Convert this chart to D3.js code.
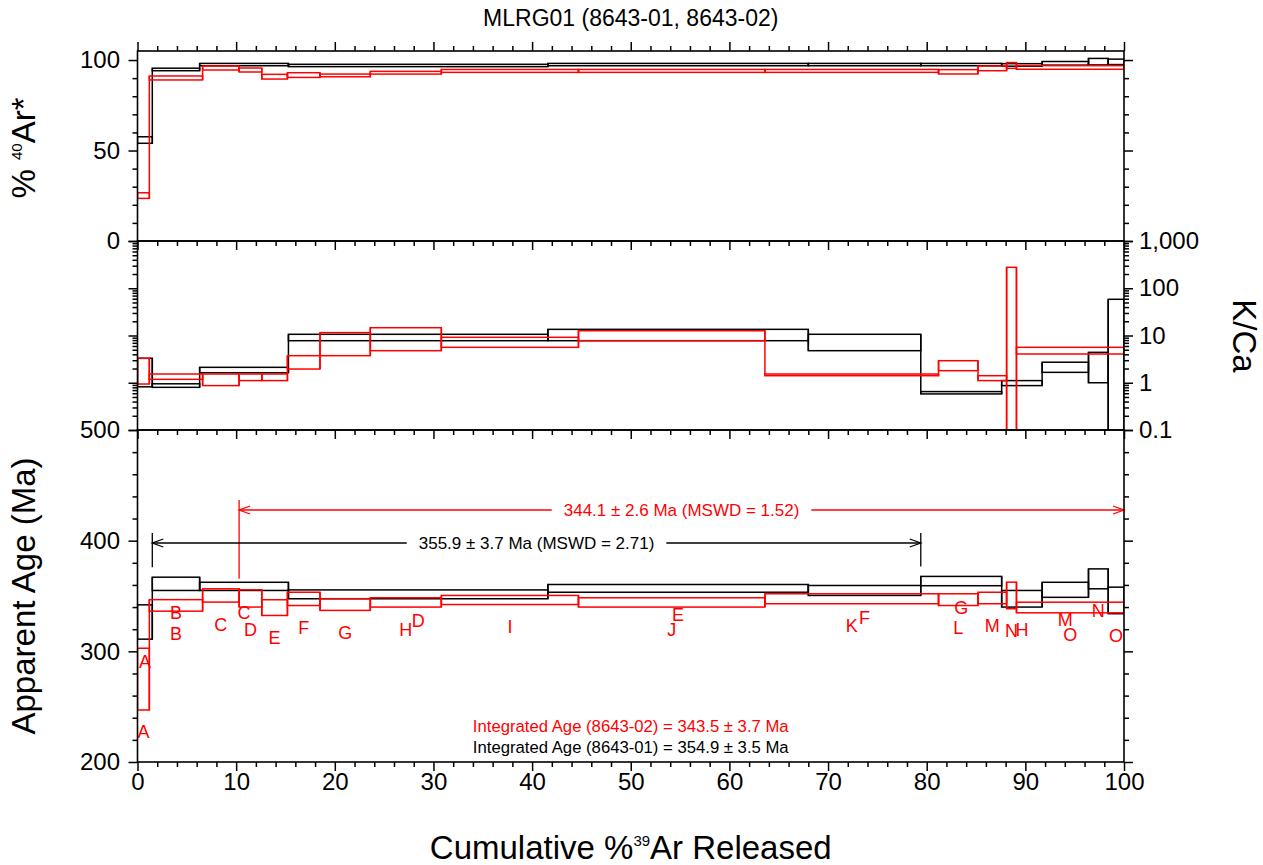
<!DOCTYPE html>
<html>
<head>
<meta charset="utf-8">
<script src="https://cdn.jsdelivr.net/npm/d3@7"></script>
<style>
  body { margin: 0; background: #fff; }
  svg { font-family: "Liberation Sans", Arial, Helvetica, sans-serif; }
</style>
</head>
<body>
<svg id="chart" width="1263" height="865"></svg>
<script>
// ---- data ----
// 8643-01 (black)
const cum01 = [0, 1.5, 6.3, 15.3, 41.6, 68.0, 79.4, 87.6, 91.7, 96.4, 98.4, 100];
const labels01 = ["A", "B", "C", "D", "E", "F", "G", "H", "M", "N", "O"];
const age01 = [326.5, 361.0, 358.7, 351.5, 356.9, 355.0, 363.5, 347.5, 355.6, 365.5, 346.0];
const ageErr01 = [15.5, 6.0, 3.7, 4.0, 3.5, 4.5, 4.2, 7.5, 6.8, 9.0, 12.0];
const ar01 = [55.8, 94.8, 97.5, 97.0, 97.5, 97.5, 97.5, 97.3, 98.2, 99.1, 99.0];
const arErr01 = [1.8, 0.7, 0.65, 0.65, 0.65, 0.65, 0.65, 0.7, 1.0, 1.8, 1.5];
const kca01 = [2.06, 0.875, 1.875, 9.18, 10.63, 7.69, 0.615, 0.99, 2.19, 2.7, 20];
const kcaErr01 = [1.24, 0.075, 0.245, 1.42, 2.87, 2.92, 0.035, 0.12, 0.53, 1.7, 38.4];

// 8643-02 (red)
const cum02 = [0, 1.2, 6.6, 10.3, 12.6, 15.2, 18.5, 23.6, 30.8, 44.7, 63.6, 81.2, 85.2, 88.1, 89.1, 100];
const labels02 = ["A", "B", "C", "D", "E", "F", "G", "H", "I", "J", "K", "L", "M", "N", "O"];
const age02 = [274.9, 341.5, 350.5, 347.8, 339.5, 347.4, 342.3, 344.2, 346.4, 344.2, 347.5, 346.7, 348.2, 350.5, 339.6];
const ageErr02 = [27.9, 5.2, 6.0, 7.8, 7.1, 6.0, 5.3, 4.2, 4.1, 4.2, 4.5, 5.3, 5.2, 12.0, 4.8];
const ar02 = [25.1, 90.1, 95.6, 94.5, 90.8, 91.7, 91.5, 93.0, 94.0, 94.0, 94.0, 93.5, 95.4, 97.0, 95.9];
const arErr02 = [1.55, 1.1, 1.1, 1.1, 1.3, 1.3, 0.75, 0.75, 0.8, 0.8, 0.8, 1.2, 1.3, 1.6, 1.0];
const kca02 = [2.115, 1.355, 1.2, 1.32, 1.32, 2.845, 7.62, 9.69, 7.39, 10.18, 1.47, 2.365, 1.26, 120, 4.84];
const kcaErr02 = [1.175, 0.175, 0.33, 0.21, 0.21, 0.895, 3.88, 4.92, 1.77, 2.42, 0.06, 0.565, 0.15, 157, 0.78];

// plateaus: [start %, end %]
const plateau01 = [1.5, 79.4];
const plateau02 = [10.3, 100];
const plateauText01 = "355.9 ± 3.7 Ma (MSWD = 2.71)";
const plateauText02 = "344.1 ± 2.6 Ma (MSWD = 1.52)";
const integratedText01 = "Integrated Age (8643-01) = 354.9 ± 3.5 Ma";
const integratedText02 = "Integrated Age (8643-02) = 343.5 ± 3.7 Ma";

const xMajor = d3.range(0, 101, 10);
const xMinor = d3.range(0, 101, 2).filter(d => d % 10 !== 0);
const arMajor = [0, 50, 100];
const arMinor = [10, 20, 30, 40, 60, 70, 80, 90];
const kcaMajor = [0.1, 1, 10, 100, 1000];
const kcaMinor = [0.1, 1, 10, 100].flatMap(d => d3.range(2, 10).map(k => k * d));
const ageMajor = [200, 300, 400, 500];
const ageMinor = d3.range(200, 501, 20).filter(d => d % 100 !== 0);

// ---- layout ----
const BLACK = "#000", RED = "#ff0000";
const svg = d3.select("#chart");
const left = 137.5, right = 1124;
const x = d3.scaleLinear().domain([0, 100]).range([left, right]);
const yAr = d3.scaleLinear().domain([0, 105]).range([241, 51]);
const yKca = d3.scaleLog().domain([0.1, 1000]).range([430, 241]);
const yAge = d3.scaleLinear().domain([200, 500]).range([762, 430]);
const panels = [yAr, yKca, yAge];

// clip paths
const defs = svg.append("defs");
panels.forEach((y, i) => {
  defs.append("clipPath").attr("id", "clip" + i)
    .append("rect")
    .attr("x", left).attr("y", y.range()[1])
    .attr("width", right - left).attr("height", y.range()[0] - y.range()[1]);
});

function spectrum(g, cum, vals, errs, y, color) {
  const isLog = typeof y.base === "function";
  const lo = (v, e) => { const l = v - e; return isLog && l <= 0 ? 1e-4 : l; };
  const steps = vals.map((v, i) => ({ x0: cum[i], x1: cum[i + 1], lo: lo(v, errs[i]), hi: v + errs[i] }));
  g.selectAll(null)
    .data(steps)
    .join("rect")
    .attr("x", d => x(d.x0))
    .attr("y", d => y(d.hi))
    .attr("width", d => x(d.x1) - x(d.x0))
    .attr("height", d => y(d.lo) - y(d.hi))
    .attr("fill", "none")
    .attr("stroke", color)
    .attr("stroke-width", 1.5);
  // connecting verticals between steps
  g.selectAll(null)
    .data(steps.slice(1).map((d, i) => ({ x: d.x0, a: steps[i], b: d })))
    .join("line")
    .attr("x1", d => x(d.x)).attr("x2", d => x(d.x))
    .attr("y1", d => y(Math.min(d.a.lo, d.b.lo)))
    .attr("y2", d => y(Math.max(d.a.hi, d.b.hi)))
    .attr("stroke", color)
    .attr("stroke-width", 1.5);
  return steps;
}

const gAr = svg.append("g").attr("clip-path", "url(#clip0)");
spectrum(gAr, cum01, ar01, arErr01, yAr, BLACK);
spectrum(gAr, cum02, ar02, arErr02, yAr, RED);

const gK = svg.append("g").attr("clip-path", "url(#clip1)");
spectrum(gK, cum01, kca01, kcaErr01, yKca, BLACK);
spectrum(gK, cum02, kca02, kcaErr02, yKca, RED);

const gAge = svg.append("g").attr("clip-path", "url(#clip2)");
const steps01 = spectrum(gAge, cum01, age01, ageErr01, yAge, BLACK);
const steps02 = spectrum(gAge, cum02, age02, ageErr02, yAge, RED);

// step letters (all drawn in red)
[[steps01, labels01], [steps02, labels02]].forEach(([steps, labs]) => {
  svg.append("g")
    .selectAll("text")
    .data(steps)
    .join("text")
    .attr("x", d => x((d.x0 + d.x1) / 2))
    .attr("y", d => yAge(d.lo) + 28.5)
    .attr("text-anchor", "middle")
    .attr("font-size", 18)
    .attr("fill", RED)
    .text((d, i) => labs[i]);
});

// plateau arrows
function plateau(range, steps, yArrow, text, color) {
  const g = svg.append("g").attr("stroke", color).attr("stroke-width", 1.3).attr("fill", "none");
  const x0 = x(range[0]), x1 = x(range[1]);
  const mid = (x0 + x1) / 2;
  const t = svg.append("text")
    .attr("x", mid).attr("y", yArrow + 6)
    .attr("text-anchor", "middle").attr("font-size", 17)
    .attr("fill", color).text(text);
  const tw = t.node().getComputedTextLength();
  g.append("line").attr("x1", x0).attr("x2", mid - tw / 2 - 12).attr("y1", yArrow).attr("y2", yArrow);
  g.append("line").attr("x1", mid + tw / 2 + 12).attr("x2", x1).attr("y1", yArrow).attr("y2", yArrow);
  g.append("polyline").attr("points", `${x0 + 11},${yArrow - 4} ${x0},${yArrow} ${x0 + 11},${yArrow + 4}`);
  g.append("polyline").attr("points", `${x1 - 11},${yArrow - 4} ${x1},${yArrow} ${x1 - 11},${yArrow + 4}`);
  range.forEach(r => {
    if (r >= 100) return;
    const near = steps.filter(s => Math.abs(s.x0 - r) < 1e-6 || Math.abs(s.x1 - r) < 1e-6);
    const top = yAge(d3.max(near, s => s.hi));
    g.append("line").attr("x1", x(r)).attr("x2", x(r)).attr("y1", yArrow - 10).attr("y2", top - 10);
  });
}
plateau(plateau02, steps02, 510, plateauText02, RED);
plateau(plateau01, steps01, 543, plateauText01, BLACK);

// integrated ages
svg.append("text").attr("x", (left + right) / 2).attr("y", 732)
  .attr("text-anchor", "middle").attr("font-size", 16.7).attr("fill", RED).text(integratedText02);
svg.append("text").attr("x", (left + right) / 2).attr("y", 753)
  .attr("text-anchor", "middle").attr("font-size", 16.7).attr("fill", BLACK).text(integratedText01);

// ---- axes ----
function ticks(axisFn, scale, pos, major, minor, fmt, pad) {
  const tr = axisFn === d3.axisLeft || axisFn === d3.axisRight ? `translate(${pos},0)` : `translate(0,${pos})`;
  const gm = svg.append("g").attr("transform", tr)
    .call(axisFn(scale).tickValues(minor).tickSize(5).tickFormat(""));
  const gM = svg.append("g").attr("transform", tr)
    .call(axisFn(scale).tickValues(major).tickSize(9).tickPadding(pad || 3).tickFormat(fmt || ""));
  [gm, gM].forEach(g => {
    g.select(".domain").remove();
    g.selectAll("line").attr("stroke", "#000").attr("stroke-width", 1.5);
    g.selectAll("text").attr("font-size", 24).attr("fill", "#000").attr("font-family", null);
    g.attr("font-family", null);
  });
}
const num = d => d3.format(",")(d);

// top panel
ticks(d3.axisLeft, yAr, left, arMajor, arMinor, num, 8.5);
ticks(d3.axisRight, yAr, right, arMajor, arMinor);
ticks(d3.axisTop, x, yAr.range()[1], xMajor, xMinor);
ticks(d3.axisBottom, x, yAr.range()[0], xMajor, xMinor);
// middle panel
ticks(d3.axisLeft, yKca, left, kcaMajor, kcaMinor);
ticks(d3.axisRight, yKca, right, kcaMajor, kcaMinor, num, 6);
ticks(d3.axisBottom, x, yKca.range()[0], xMajor, xMinor);
// bottom panel
ticks(d3.axisLeft, yAge, left, ageMajor, ageMinor, num, 8.5);
ticks(d3.axisRight, yAge, right, ageMajor, ageMinor);
ticks(d3.axisBottom, x, yAge.range()[0], xMajor, xMinor, num, 2);

// panel borders
panels.forEach(y => {
  svg.append("rect")
    .attr("x", left).attr("y", y.range()[1])
    .attr("width", right - left).attr("height", y.range()[0] - y.range()[1])
    .attr("fill", "none").attr("stroke", "#000").attr("stroke-width", 1.6);
});

// ---- titles ----
svg.append("text").attr("x", (left + right) / 2).attr("y", 26)
  .attr("text-anchor", "middle").attr("font-size", 23).text("MLRG01 (8643-01, 8643-02)");

const tAr = svg.append("text")
  .attr("transform", "translate(35,148) rotate(-90)")
  .attr("text-anchor", "middle").attr("font-size", 33);
tAr.append("tspan").text("% ");
tAr.append("tspan").attr("font-size", 15).attr("dy", -13).text("40");
tAr.append("tspan").attr("dy", 13).text("Ar*");

svg.append("text")
  .attr("transform", "translate(35,596) rotate(-90)")
  .attr("text-anchor", "middle").attr("font-size", 33).text("Apparent Age (Ma)");

svg.append("text")
  .attr("transform", "translate(1233,336) rotate(90)")
  .attr("text-anchor", "middle").attr("font-size", 33).text("K/Ca");

const tX = svg.append("text")
  .attr("x", (left + right) / 2).attr("y", 859)
  .attr("text-anchor", "middle").attr("font-size", 33);
tX.append("tspan").text("Cumulative %");
tX.append("tspan").attr("font-size", 15).attr("dy", -13).text("39");
tX.append("tspan").attr("dy", 13).text("Ar Released");
</script>
</body>
</html>
